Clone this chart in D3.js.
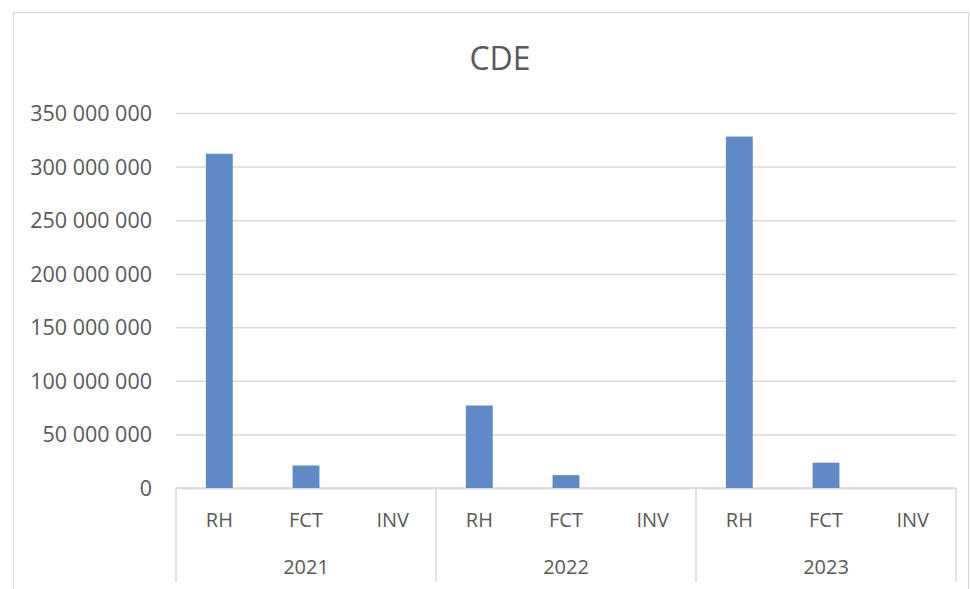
<!DOCTYPE html>
<html>
<head>
<meta charset="utf-8">
<script src="https://cdn.jsdelivr.net/npm/d3@7"></script>
<style>
  body { margin: 0; background: #fff; }
  text { font-family: "Open Sans", "Noto Sans", sans-serif; fill: #595959; }
</style>
</head>
<body>
<div id="chart"></div>
<script>
var years = ['2021', '2022', '2023'];
var types = ['RH', 'FCT', 'INV'];
var values2021 = [312000000, 21000000, 0];
var values2022 = [77000000, 12000000, 0];
var values2023 = [328000000, 23600000, 0];
var yTicks = [0, 50000000, 100000000, 150000000, 200000000, 250000000, 300000000, 350000000];
var chartTitle = 'CDE';

function CdeChart() {

    this.init = function() {
        this._config = {
            width: 970,
            height: 589,
            left: 176,
            right: 956,
            top: 113,
            bottom: 488
        };
        this._rows = [];
        var allValues = [values2021, values2022, values2023];
        for (var i = 0; i < years.length; i++) {
            for (var j = 0; j < types.length; j++) {
                this._rows.push({ key: years[i] + '|' + types[j], year: years[i], type: types[j], value: allValues[i][j] });
            }
        }
        this._initElements();
        this._drawAxes();
        this._drawBars();
    };

    this._initElements = function() {
        var c = this._config;
        this._rootNode = d3.select('#chart')
            .append('svg')
            .attr('width', c.width)
            .attr('height', c.height);

        // chart frame
        this._rootNode.append('rect')
            .attr('x', 13.5).attr('y', 12.5)
            .attr('width', 955).attr('height', 600)
            .attr('fill', 'none')
            .attr('stroke', '#d9d9d9');

        this._rootNode.append('text')
            .attr('x', 500)
            .attr('y', 70)
            .attr('text-anchor', 'middle')
            .style('font-size', '32px')
            .text(chartTitle);

        this._x = d3.scaleBand()
            .domain(this._rows.map(function(d) { return d.key; }))
            .range([c.left, c.right])
            .paddingInner(0.69)
            .paddingOuter(0.345);

        this._y = d3.scaleLinear()
            .domain([0, 350000000])
            .range([c.bottom, c.top]);
    };

    this._drawAxes = function() {
        var c = this._config;
        var y = this._y;
        var x = this._x;
        var svg = this._rootNode;
        var fmt = function(v) { return d3.format(',')(v).replace(/,/g, ' '); };

        var yAxis = svg.append('g')
            .attr('transform', 'translate(' + c.left + ',0)')
            .call(d3.axisLeft(y).tickValues(yTicks).tickSize(-(c.right - c.left)).tickFormat(fmt).tickPadding(24));
        yAxis.select('.domain').remove();
        yAxis.selectAll('.tick line').attr('stroke', '#d9d9d9').attr('stroke-width', 1.5);
        yAxis.selectAll('.tick text')
            .style('font-size', '21.5px')
            .style('font-family', '"Open Sans", sans-serif')
            .attr('fill', '#595959')
            .attr('dy', '0.35em');

        // category axis
        svg.append('line')
            .attr('x1', c.left).attr('x2', c.right)
            .attr('y1', c.bottom).attr('y2', c.bottom)
            .attr('stroke', '#d9d9d9').attr('stroke-width', 1.5);

        var groupWidth = (c.right - c.left) / years.length;
        var seps = d3.range(years.length + 1).map(function(i) { return c.left + i * groupWidth; });
        svg.selectAll('line.sep').data(seps).enter().append('line')
            .attr('class', 'sep')
            .attr('x1', function(d) { return d; }).attr('x2', function(d) { return d; })
            .attr('y1', c.bottom).attr('y2', 582)
            .attr('stroke', '#d9d9d9').attr('stroke-width', 1.5);

        svg.selectAll('text.cat').data(this._rows).enter().append('text')
            .attr('class', 'cat')
            .attr('x', function(d) { return x(d.key) + x.bandwidth() / 2; })
            .attr('y', 527)
            .attr('text-anchor', 'middle')
            .style('font-size', '20px')
            .text(function(d) { return d.type; });

        svg.selectAll('text.year').data(years).enter().append('text')
            .attr('class', 'year')
            .attr('x', function(d, i) { return c.left + (i + 0.5) * groupWidth; })
            .attr('y', 574)
            .attr('text-anchor', 'middle')
            .style('font-size', '20px')
            .text(function(d) { return d; });
    };

    this._drawBars = function() {
        var x = this._x;
        var y = this._y;
        this._rootNode.selectAll('rect.bar').data(this._rows).enter().append('rect')
            .attr('class', 'bar')
            .attr('x', function(d) { return x(d.key); })
            .attr('y', function(d) { return y(d.value); })
            .attr('width', x.bandwidth())
            .attr('height', function(d) { return y(0) - y(d.value); })
            .attr('fill', '#5f8ac7');
    };

    this.init();
}

function initApp() {
    if (typeof(window.cdeChart) === 'undefined') {
        window.cdeChart = new CdeChart();
    }
}
document.addEventListener('DOMContentLoaded', initApp);
</script>
</body>
</html>
